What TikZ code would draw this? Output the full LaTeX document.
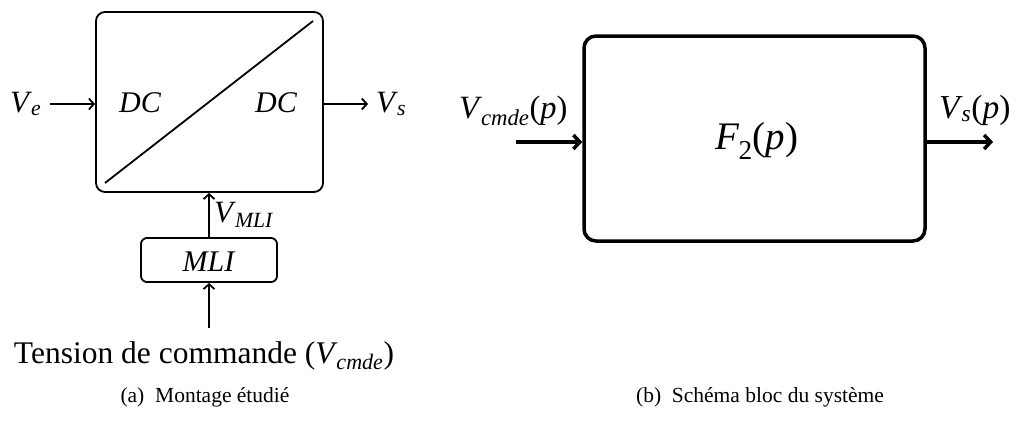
\documentclass[tikz,border=0pt]{standalone}
\usepackage{fontspec}
\setmainfont{Liberation Serif}
\usetikzlibrary{arrows.meta}
\newcommand{\mysub}[2]{\textit{#1}\textsubscript{\kern-0.05em\textit{#2}}}
\begin{document}
\begin{tikzpicture}[x=1pt,y=-1pt,
  lbl/.style={inner sep=0pt,font=\fontsize{31}{34}\selectfont},
  smlbl/.style={inner sep=0pt,font=\fontsize{30}{33}\selectfont},
  captxt/.style={inner sep=0pt,font=\fontsize{21.5}{24}\selectfont},
  thinbox/.style={draw,line width=1.8pt,rounded corners=9pt,inner sep=0pt},
  thickbox/.style={draw,line width=3.5pt,rounded corners=12pt,inner sep=0pt},
  thinarrow/.style={-{Straight Barb[length=5pt,width=11pt]},line width=1.8pt},
  thickarrow/.style={-{Straight Barb[length=6.5pt,width=14pt]},line width=3.5pt}]
\useasboundingbox (0,0) rectangle (1027,421);
% ---- (a) ----
\node[thinbox,minimum width=227pt,minimum height=180pt] (conv) at (209.5,102) {};
\coordinate (dA) at (105,183);
\coordinate (dB) at (313,21);
\draw[line width=1.8pt] (dA) -- (dB);
\node[smlbl,anchor=base west] (dcl) at (119,112) {\textit{DC}};
\node[smlbl,anchor=base west] (dcr) at (255,112) {\textit{DC}};
\node[lbl,anchor=base west] (ve) at (10,112) {\mysub{V}{e}};
\coordinate (veend) at (50,104);
\draw[thinarrow] (veend) -- (conv.west |- veend);
\node[lbl,anchor=base west] (vs) at (376,112) {\mysub{V}{s}};
\coordinate (vsstart) at (368,104);
\draw[thinarrow] (conv.east |- vsstart) -- (vsstart);
\node[thinbox,rounded corners=6pt,minimum width=136pt,minimum height=44pt] (mli) at (209,260) {};
\node[smlbl] (mlit) at (209,262) {\textit{MLI}};
\draw[thinarrow] (mli.north) -- (conv.south -| mli.north);
\node[lbl,anchor=base west] (vmli) at (214,222) {\mysub{V}{MLI}};
\coordinate (cmd) at (209,328);
\draw[thinarrow] (cmd) -- (mli.south);
\node[lbl,font=\fontsize{31.5}{35}\selectfont,anchor=base] (tension) at (204,363) {Tension de commande (\mysub{V}{cmde})};
\node[captxt,anchor=base] (capa) at (205,402) {(a)\enspace Montage étudié};
% ---- (b) ----
\node[thickbox,minimum width=341pt,minimum height=205pt] (f2) at (754.5,138.5) {};
\node[lbl,font=\fontsize{39}{42}\selectfont] (f2t) at (757,141) {\mysub{F}{\upshape 2}(\textit{p})};
\coordinate (inb) at (516,142);
\draw[thickarrow] (inb) -- (f2.west |- inb);
\node[lbl,font=\fontsize{32.5}{35}\selectfont,anchor=base west] (vcmde) at (459,118) {\mysub{V}{cmde}(\textit{p})};
\coordinate (outb) at (993,142);
\draw[thickarrow] (f2.east |- outb) -- (outb);
\node[lbl,font=\fontsize{33.5}{36}\selectfont,anchor=base west] (vsp) at (939,118) {\mysub{V}{s}(\textit{p})};
\node[captxt,anchor=base] (capb) at (760,402) {(b)\enspace Schéma bloc du système};
\end{tikzpicture}
\end{document}
